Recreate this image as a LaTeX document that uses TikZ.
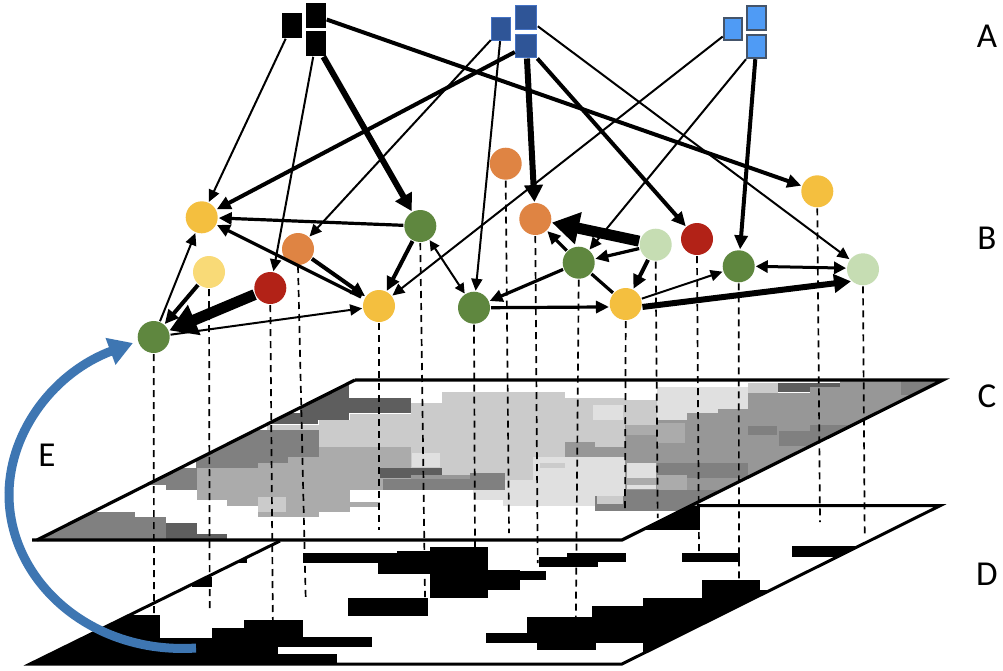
\documentclass[tikz,border=0pt]{standalone}
\usepackage{fontspec}
\setmainfont{Carlito}
\usetikzlibrary{arrows.meta}
\definecolor{cyel}{HTML}{F4BF3F}
\definecolor{cpale}{HTML}{F9DA77}
\definecolor{cora}{HTML}{DF8443}
\definecolor{cred}{HTML}{B22217}
\definecolor{cgrn}{HTML}{5F873F}
\definecolor{clgr}{HTML}{C6DDB3}
\definecolor{cnavy}{HTML}{2F5597}
\definecolor{cnavyb}{HTML}{4472C4}
\definecolor{csky}{HTML}{4F9BF5}
\definecolor{cskyb}{HTML}{44546A}
\definecolor{carc}{HTML}{3E76B2}
\definecolor{gA}{HTML}{5E5E5E}
\definecolor{gB}{HTML}{808080}
\definecolor{gC}{HTML}{979797}
\definecolor{gD}{HTML}{ABABAB}
\definecolor{gE}{HTML}{CBCBCB}
\definecolor{gF}{HTML}{E0E0E0}
\tikzset{
  x=1pt,y=-1pt,
  dotnode/.style={circle,minimum size=32,inner sep=0,outer sep=1,fill=#1},
  sq/.style={rectangle,inner sep=0,outer sep=1,minimum width=20,minimum height=25,fill=#1},
  sqblack/.style={sq=black},
  sqnavy/.style={sq=cnavy,draw=cnavyb,line width=1},
  sqsky/.style={sq=csky,draw=cskyb,line width=1.6},
  aone/.style={draw=black,line width=2,-{Triangle[length=12,width=11]}},
  atwo/.style={draw=black,line width=3.2,-{Triangle[length=13,width=12]}},
  athree/.style={draw=black,line width=4,-{Triangle[length=14,width=13]}},
  afour/.style={draw=black,line width=6,-{Triangle[length=17,width=18]}},
  afive/.style={draw=black,line width=11,-{Triangle[length=27,width=31]}},
  bione/.style={draw=black,line width=2,{Triangle[length=10,width=10]}-{Triangle[length=10,width=10]}},
  bitwo/.style={draw=black,line width=3,{Triangle[length=12,width=12]}-{Triangle[length=12,width=12]}},
  plain/.style={draw=black,line width=3.2},
  drop/.style={draw=black,line width=1.7,dash pattern=on 7 off 5},
  plane/.style={draw=black,line width=3.2,line join=miter},
  lab/.style={font=\fontsize{35}{35}\selectfont,inner sep=0,text=black}
}
\begin{document}
\begin{tikzpicture}
\useasboundingbox (0,0) rectangle (1003,670);
\fill[white] (0,0) rectangle (1003,670);
% plane D
\begin{scope}
\clip (352,505.7) -- (940,505.7) -- (622,664) -- (30,664) -- cycle;
\fill[black] (303,553) rectangle (488,563);
\fill[black] (397,550.7) rectangle (488,573);
\fill[black] (378,563) rectangle (430,574);
\fill[black] (430,546.7) rectangle (488,598);
\fill[black] (430,570.7) rectangle (546,580);
\fill[black] (488,570) rectangle (520,590);
\fill[black] (347.7,598) rectangle (427.7,616);
\fill[black] (485.7,633) rectangle (700,642.7);
\fill[black] (526.7,617.3) rectangle (800,642.7);
\fill[black] (591.7,605.7) rectangle (800,643);
\fill[black] (643,598) rectangle (800,660);
\fill[black] (537,642) rectangle (596,650);
\fill[black] (701.7,580) rectangle (760,590);
\fill[black] (701.7,590) rectangle (800,600);
\fill[black] (792,546) rectangle (900,557);
\fill[black] (682,553) rectangle (740,562);
\fill[black] (539,557) rectangle (598,566.7);
\fill[black] (567,552.7) rectangle (626,562);
\fill[black] (192,577) rectangle (212,587);
\fill[black] (233,557) rectangle (247,563);
\fill[black] (620,500) rectangle (700,530);
\fill[black] (0,615) rectangle (160.3,665);
\fill[black] (0,638) rectangle (278,665);
\fill[black] (212,628) rectangle (302.7,647);
\fill[black] (244.3,620) rectangle (302.7,637);
\fill[black] (212,637) rectangle (371.7,647);
\fill[black] (0,654) rectangle (337,665);
\end{scope}
\draw[line width=3] (697,505.7) -- (940,505.7) -- (622,664) -- (30,664) -- (280,541);
% plane C
\fill[white] (355,380) -- (943,380) -- (622,540) -- (37,540) -- cycle;
\begin{scope}
\clip (355,380) -- (943,380) -- (622,540) -- (37,540) -- cycle;
% light central band
\fill[gE] (319,420) rectangle (411,447);
\fill[gE] (350,414) rectangle (441.7,447);
\fill[gE] (411,403) rectangle (533,470);
\fill[gE] (441.7,392) rectangle (565,475);
\fill[gE] (533,397.7) rectangle (625,441.7);
\fill[gE] (441,441) rectangle (533,490);
\fill[gE] (500,441) rectangle (535,480);
\fill[gF] (473,490) rectangle (503,500);
\fill[gF] (503,480) rectangle (625,505.7);
\fill[gF] (533,457) rectangle (625,505.7);
\fill[gE] (540,463) rectangle (565,468);
\fill[gF] (592.7,405) rectangle (623,420);
\fill[gF] (657,387) rectangle (748,409);
\fill[gF] (657,390) rectangle (687,420);
\fill[gF] (687,390) rectangle (718,413);
\fill[gE] (748,383) rectangle (778,393);
\fill[gE] (625,400) rectangle (657,425);
% right grey field
\fill[gC] (625,425) rectangle (950,505);
\fill[gC] (657,420) rectangle (950,505);
\fill[gC] (687,413) rectangle (950,505);
\fill[gC] (718,409) rectangle (950,505);
\fill[gC] (748,393) rectangle (950,505);
\fill[gC] (810,387) rectangle (950,505);
\fill[gC] (840,380) rectangle (950,505);
\fill[gC] (565,441.7) rectangle (625,456.7);
\fill[gE] (595,441) rectangle (625,446.7);
\fill[gD] (626,425) rectangle (657,435);
\fill[gD] (657,423) rectangle (685,443);
\fill[gB] (748,425.7) rectangle (777,435);
\fill[gB] (779,430.7) rectangle (880,446);
\fill[gB] (810,425) rectangle (880,440);
\fill[gA] (778,383) rectangle (810,392);
\fill[gA] (810,383) rectangle (840,387);
\fill[gB] (901,380) rectangle (950,395);
\fill[gB] (657,463) rectangle (748,478);
\fill[gB] (687,468) rectangle (748,478);
\fill[gD] (657,475) rectangle (687,490);
\fill[gF] (626.7,463) rectangle (655.7,478);
\fill[gD] (626.7,478) rectangle (655.7,485);
\fill[gF] (626.7,485) rectangle (655.7,489);
\fill[gB] (595,496) rectangle (720,511);
\fill[gB] (625,490) rectangle (720,510);
\fill[gE] (597,496) rectangle (623,504);
% left part
\fill[gA] (300,380) rectangle (349,420);
\fill[gA] (349,397.7) rectangle (410.7,413);
\fill[gA] (270,413) rectangle (318,423.5);
\fill[gE] (267,425) rectangle (320,430);
\fill[gB] (196,430) rectangle (319,457);
\fill[gB] (196,457) rectangle (288,463);
\fill[gB] (196,463) rectangle (258,468);
\fill[gB] (150,468) rectangle (197,485);
\fill[gB] (166,485) rectangle (197,490);
\fill[gD] (196.7,468) rectangle (380,500);
\fill[gD] (227,468) rectangle (350,505.7);
\fill[gD] (258,463) rectangle (319,516.7);
\fill[gD] (288,457) rectangle (411,468);
\fill[gD] (319,446.7) rectangle (411,490);
\fill[gD] (319,480) rectangle (350,511.7);
\fill[gD] (350,502) rectangle (380,507);
\fill[white] (350,490) rectangle (380,502);
\fill[gE] (258,497) rectangle (286,512);
\fill[gF] (411.7,453) rectangle (440,467);
\fill[gA] (380,468) rectangle (441.7,478);
\fill[gC] (411,475) rectangle (505,479);
\fill[gB] (383,479) rectangle (505,490);
\fill[gB] (470,473) rectangle (505,480);
\fill[gB] (0,512) rectangle (135,540);
\fill[gB] (135,517) rectangle (166,540);
\fill[gA] (166,523) rectangle (196.7,540);
\fill[gA] (196.7,534) rectangle (227,540);
\end{scope}
\draw[plane] (355,380) -- (943,380) -- (622,540) -- (32,540);
\draw[plane] (37,540) -- (355,380);
% blue arc
\coordinate (arcs) at (196,648);
\coordinate (arce) at (133,343);
\draw[carc,line width=9,-{Triangle[length=24,width=27]}] (arcs) .. controls (90,655) and (8,580) .. (9,493) .. controls (10,430) and (55,372) .. (arce);
\node[lab] (lE) at (47,455) {E};
% level B nodes
\node[dotnode=cyel] (Ya) at (201.7,217.3) {};
\node[dotnode=cpale] (Lp) at (209,272) {};
\node[dotnode=cora] (Oa) at (298,249) {};
\node[dotnode=cred] (Ra) at (270.3,288) {};
\node[dotnode=cgrn] (Ga) at (153.7,337) {};
\node[dotnode=cyel] (Yb) at (379,306) {};
\node[dotnode=cgrn] (Gb) at (420.3,226) {};
\node[dotnode=cgrn] (Gc) at (474,307.7) {};
\node[dotnode=cora] (Ob) at (505.7,163.7) {};
\node[dotnode=cora] (Oc) at (535.3,219) {};
\node[dotnode=clgr] (La) at (655.7,244.7) {};
\node[dotnode=cred] (Rb) at (697,239) {};
\node[dotnode=cgrn] (Gd) at (578.7,262.7) {};
\node[dotnode=cyel] (Yc) at (625.7,304) {};
\node[dotnode=cgrn] (Ge) at (738.7,266.3) {};
\node[dotnode=cyel] (Yd) at (817.3,191.3) {};
\node[dotnode=clgr] (Lb) at (863,269.3) {};
% level A squares
\node[sqblack] (Ka) at (292,25.3) {};
\node[sqblack] (Kb) at (315.7,15.7) {};
\node[sqblack] (Kc) at (315.7,43.3) {};
\node[sqnavy,minimum width=19,minimum height=23] (Na) at (501.3,28.7) {};
\node[sqnavy,minimum width=21,minimum height=24] (Nb) at (526.3,17.7) {};
\node[sqnavy,minimum width=21,minimum height=23] (Nc) at (526.3,46) {};
\node[sqsky,minimum width=18,minimum height=22] (Sa) at (732.7,28.7) {};
\node[sqsky,minimum width=19,minimum height=24] (Sb) at (756.3,17.7) {};
\node[sqsky,minimum width=19,minimum height=23] (Sc) at (756.3,46.7) {};
% edges from A
\draw[aone] (Ka) -- (Ya);
\draw[aone] (Kc) -- (Ra);
\draw[afour] (Kc) -- (Gb);
\draw[athree] (Kb) -- (Yd);
\draw[aone] (Na) -- (Oa);
\draw[aone] (Na) -- (Gc);
\draw[athree] (Nc) -- (Ya);
\draw[afour] (Nc) -- (Oc);
\draw[athree] (Nc) -- (Rb);
\draw[aone] (Nb) -- (Lb);
\draw[aone] (Sa) -- (Yb);
\draw[aone] (Sc) -- (Gd);
\draw[athree] (Sc) -- (Ge);
% edges within B
\draw[atwo] (Gb) -- (Ya);
\draw[atwo,shorten <=3] (Yb) -- (Ya);
\draw[athree] (Oa) -- (Yb);
\draw[athree] (Gb) -- (Yb);
\draw[bione] (Gb) -- (Gc);
\draw[aone] (Ga) -- (Ya);
\draw[athree] (Lp) -- (Ga);
\draw[afive] (Ra) -- (Ga);
\draw[aone] (Ga) -- (Yb);
\draw[atwo] (Gc.east) -- (Yc.190);
\draw[atwo] (Gd) -- (Gc);
\draw[atwo] (Gd) -- (Oc);
\draw[afive] (La) -- (Oc);
\draw[atwo] (La) -- (Gd);
\draw[athree] (La) -- (Yc);
\draw[plain] (Gd) -- (Yc);
\draw[aone] (Yc) -- (Ge);
\draw[afour] (Yc.350) -- (Lb.225);
\draw[bitwo] (Ge.east) -- (Lb.176);
% drop lines
\coordinate (dGa) at (154,638);
\coordinate (dLp) at (209.7,608);
\coordinate (dRa) at (273,638);
\coordinate (dOa) at (305.7,598);
\coordinate (dYb) at (379,530);
\coordinate (dGb) at (425,597);
\coordinate (dGc) at (475,553);
\coordinate (dOb) at (509,533);
\coordinate (dOc) at (537.7,563);
\coordinate (dGd) at (575.7,638);
\coordinate (dYc) at (625,510);
\coordinate (dLa) at (657.7,518);
\coordinate (dRb) at (699,553);
\coordinate (dGe) at (739,595);
\coordinate (dYd) at (820,522);
\coordinate (dLb) at (864.7,537);
\draw[drop] (Ga.south) -- (dGa);
\draw[drop] (Lp.south) -- (dLp);
\draw[drop] (Ra.south) -- (dRa);
\draw[drop] (Oa.south) -- (dOa);
\draw[drop] (Yb.south) -- (dYb);
\draw[drop] (Gb.south) -- (dGb);
\draw[drop] (Gc.south) -- (dGc);
\draw[drop] (Ob.south) -- (dOb);
\draw[drop] (Oc.south) -- (dOc);
\draw[drop] (Gd.south) -- (dGd);
\draw[drop] (Yc.south) -- (dYc);
\draw[drop] (La.south) -- (dLa);
\draw[drop] (Rb.south) -- (dRb);
\draw[drop] (Ge.south) -- (dGe);
\draw[drop] (Yd.south) -- (dYd);
\draw[drop] (Lb.south) -- (dLb);
% labels
\node[lab] (lA) at (987,36) {A};
\node[lab] (lB) at (987,238) {B};
\node[lab] (lC) at (987,396) {C};
\node[lab] (lD) at (987,574) {D};
\end{tikzpicture}
\end{document}
